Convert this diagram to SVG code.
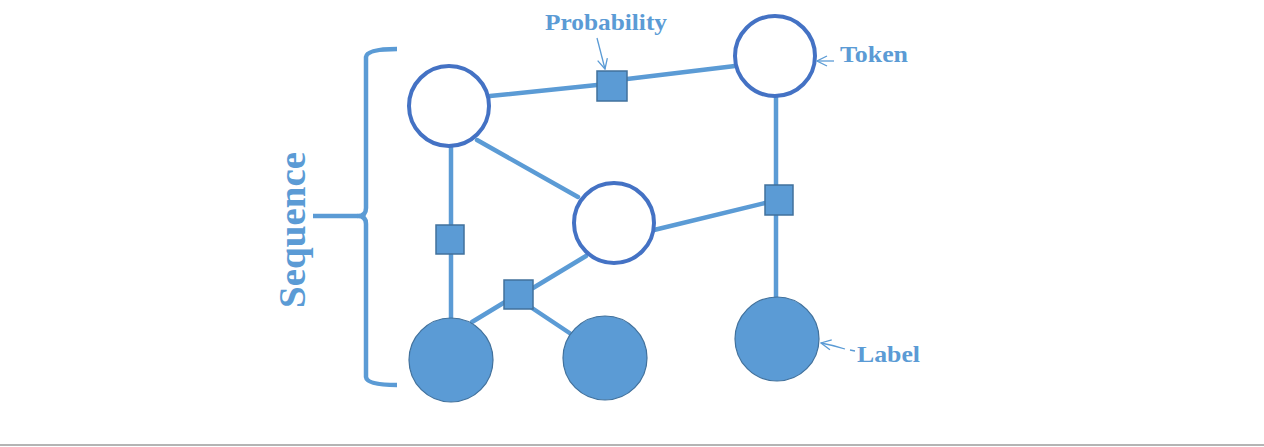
<svg xmlns="http://www.w3.org/2000/svg" width="1264" height="447" viewBox="0 0 1264 447">
  <defs>
    <style>
      .edge { stroke: #5B9BD5; stroke-width: 4.5; fill: none; stroke-linecap: round; }
      .hollow { fill: #FFFFFF; stroke: #4472C4; stroke-width: 4; }
      .solid { fill: #5B9BD5; stroke: #41719C; stroke-width: 1.2; }
      .factor { fill: #5B9BD5; stroke: #41719C; stroke-width: 1.5; }
      .note { fill: #5B9BD5; font-family: "Liberation Serif", "Times New Roman", serif; font-weight: bold; }
      .pointer { stroke: #5B9BD5; stroke-width: 1.3; fill: none; }
      .brace { stroke: #5B9BD5; stroke-width: 4.5; fill: none; stroke-linejoin: round; }
    </style>
    <marker id="openHead" viewBox="0 0 12 12" refX="11" refY="6" markerWidth="12" markerHeight="12" markerUnits="userSpaceOnUse" orient="auto">
      <path d="M1,1 L11,6 L1,11" fill="none" stroke="#5B9BD5" stroke-width="1.3"/>
    </marker>
  </defs>

  <rect x="0" y="0" width="1264" height="447" fill="#FFFFFF"/>
  <rect x="0" y="444" width="1264" height="2" fill="#B4B4B4"/>

  <!-- connectors between variables and factor squares -->
  <g id="connectors">
    <line class="edge" x1="490" y1="96" x2="597" y2="85"/>
    <line class="edge" x1="627" y1="79" x2="735" y2="66"/>
    <line class="edge" x1="451" y1="147" x2="451" y2="225"/>
    <line class="edge" x1="451" y1="254" x2="451" y2="318"/>
    <line class="edge" x1="477" y1="140" x2="578" y2="197"/>
    <line class="edge" x1="654" y1="230" x2="765" y2="203"/>
    <line class="edge" x1="776" y1="97" x2="776" y2="185"/>
    <line class="edge" x1="776" y1="215" x2="776" y2="298"/>
    <line class="edge" x1="586" y1="256" x2="533" y2="288"/>
    <line class="edge" x1="505" y1="302" x2="472" y2="322"/>
    <line class="edge" x1="532" y1="308" x2="571" y2="334"/>
  </g>

  <!-- bracket marking the sequence -->
  <g id="sequence-bracket">
    <path class="brace" d="M397,49 Q367,49 366,57 V208 Q366,216 358,216 Q366,216 366,224 V377 Q367,385 397,385"/>
    <line class="brace" x1="313" y1="216" x2="358" y2="216"/>
    <text class="note" font-size="38" text-anchor="middle" transform="translate(305,230) rotate(-90)" textLength="156" lengthAdjust="spacingAndGlyphs">Sequence</text>
  </g>

  <!-- token variables -->
  <g id="token-1"><circle class="hollow" cx="449" cy="106" r="40"/></g>
  <g id="token-2"><circle class="hollow" cx="614" cy="223" r="40"/></g>
  <g id="token-3"><circle class="hollow" cx="775" cy="56" r="40"/></g>

  <!-- label variables -->
  <g id="label-1"><circle class="solid" cx="451" cy="360" r="42"/></g>
  <g id="label-2"><circle class="solid" cx="605" cy="358" r="42"/></g>
  <g id="label-3"><circle class="solid" cx="777" cy="339" r="42"/></g>

  <!-- factor squares -->
  <g id="factor-1"><rect class="factor" x="597" y="71" width="30" height="30"/></g>
  <g id="factor-2"><rect class="factor" x="436" y="225" width="28" height="29"/></g>
  <g id="factor-3"><rect class="factor" x="504" y="280" width="29" height="29"/></g>
  <g id="factor-4"><rect class="factor" x="765" y="185" width="28" height="30"/></g>

  <!-- annotations -->
  <g id="note-probability">
    <text class="note" x="545" y="30" font-size="24" textLength="122" lengthAdjust="spacingAndGlyphs">Probability</text>
    <line class="pointer" x1="597" y1="38" x2="605" y2="69" marker-end="url(#openHead)"/>
  </g>
  <g id="note-token">
    <text class="note" x="840" y="62" font-size="24" textLength="68" lengthAdjust="spacingAndGlyphs">Token</text>
    <line class="pointer" x1="834" y1="61" x2="817" y2="61" marker-end="url(#openHead)"/>
  </g>
  <g id="note-label">
    <text class="note" x="857" y="362" font-size="24" textLength="63" lengthAdjust="spacingAndGlyphs">Label</text>
    <path class="pointer" d="M855,351 L850,350 M845,349 Q832,345 821,343" marker-end="url(#openHead)"/>
  </g>
</svg>
